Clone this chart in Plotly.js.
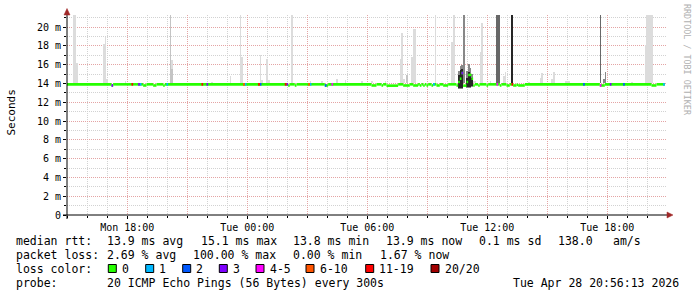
<!DOCTYPE html>
<html><head><meta charset="utf-8">
<script src="https://cdn.plot.ly/plotly-3.0.1.min.js"></script>
<style>html,body{margin:0;padding:0;background:#fff}#chart{width:697px;height:297px}</style>
</head><body><div id="chart"></div>
<script>
const M = '2026-04-27 ', T = '2026-04-28 ';

// median rtt (ms), step values at 5-minute sample times where the value changes
const medianTimes = [M+'15:00', M+'17:15', M+'17:20', M+'18:50', M+'19:00', M+'19:20', M+'19:30', M+'19:50', M+'19:55',
  T+'02:05', T+'02:10', T+'02:25', T+'02:30', T+'03:55', T+'04:05', T+'06:15', T+'06:30', T+'06:45', T+'06:50',
  T+'07:00', T+'07:35', T+'07:50', T+'08:10', T+'08:20', T+'08:35', T+'08:40', T+'08:45', T+'08:50', T+'08:55',
  T+'09:00', T+'09:05', T+'09:15', T+'09:20', T+'09:30', T+'09:40', T+'09:50', T+'10:05', T+'10:30', T+'10:35',
  T+'10:40', T+'10:45', T+'10:50', T+'11:00', T+'11:05', T+'11:15', T+'11:20', T+'11:25', T+'11:35', T+'11:40',
  T+'12:00', T+'12:05', T+'12:40', T+'12:45', T+'13:00', T+'13:10', T+'13:20', T+'13:30', T+'13:35', T+'13:55',
  T+'17:40', T+'17:55', T+'20:15', T+'20:30', T+'20:50'];
const medianVals = [13.9, 13.78, 13.9, 13.78, 13.9, 13.78, 13.9, 13.78, 13.9,
  13.78, 13.9, 13.78, 13.9, 13.78, 13.9, 13.78, 13.9, 13.78, 13.9,
  13.76, 13.9, 13.78, 13.9, 13.78, 13.9, 13.78, 13.9, 13.78, 13.9,
  13.78, 13.9, 13.78, 13.9, 13.78, 13.9, 13.78, 13.9, 13.78, 14.15,
  14.5, 15.1, 13.76, 14.15, 14.9, 14.5, 13.78, 13.9, 13.78, 13.9,
  13.78, 13.9, 13.78, 13.9, 13.78, 13.9, 13.78, 13.85, 13.78, 13.9,
  13.78, 13.9, 13.78, 13.9, 13.9];

// lost pings (of 20) at samples with loss
const lossTimes = [M+'17:15', M+'18:15', M+'18:35', M+'18:40', M+'20:00', M+'21:45', M+'22:00', M+'23:50', M+'23:55',
  T+'00:35', T+'00:40', T+'01:55', T+'02:00', T+'03:05', T+'03:10', T+'03:55', T+'04:15', T+'09:20', T+'10:45',
  T+'12:30', T+'13:15', T+'16:50', T+'17:40', T+'18:10', T+'18:50', T+'20:50'];
const lossCount = [3, 15, 3, 1, 1, 15, 3, 8, 1,
  15, 2, 15, 3, 8, 1, 2, 5, 1, 3,
  5, 15, 2, 5, 3, 2, 1];

// smoke (ping spread) bands: low / high rtt (ms) and density level 1 (sparse) .. 5 (dense)
const smokeTimes = [M+'15:20', M+'15:25', M+'15:30', M+'16:50', M+'16:55', M+'17:00', M+'17:55', M+'20:10', M+'20:15', M+'20:15',
  M+'22:15', M+'23:10', M+'23:40', M+'23:45', T+'00:40', T+'00:45', T+'01:00', T+'01:05', T+'02:15', T+'03:10',
  T+'03:45', T+'04:30', T+'04:55', T+'05:45', T+'06:15', T+'06:55', T+'07:40', T+'07:45', T+'07:50', T+'08:00',
  T+'08:15', T+'08:20', T+'08:25', T+'09:25', T+'10:15', T+'10:20',
  T+'10:35', T+'10:35', T+'10:40', T+'10:40', T+'10:45', T+'10:45', T+'10:50',
  T+'11:00', T+'11:00', T+'11:05', T+'11:05', T+'11:10', T+'11:10', T+'11:15', T+'11:15', T+'11:20', T+'11:25',
  T+'11:40', T+'11:45', T+'12:10', T+'12:30', T+'12:35', T+'12:50', T+'12:55', T+'13:15', T+'14:05', T+'14:40',
  T+'14:45', T+'15:15', T+'15:20', T+'15:55', T+'16:00', T+'16:05', T+'17:40', T+'17:50', T+'17:55', T+'19:15',
  T+'19:55', T+'20:00', T+'20:05', T+'20:10', T+'20:15'];
const smokeLo = [14.0, 14.0, 14.0, 14.0, 14.0, 14.0, 14.0, 14.0, 14.0, 14.0,
  14.0, 14.0, 14.0, 14.0, 14.0, 14.0, 14.0, 14.0, 14.0, 14.0,
  14.0, 14.0, 14.0, 14.0, 14.0, 14.0, 14.0, 14.0, 14.0, 14.0,
  14.0, 14.0, 14.0, 14.0, 14.0, 14.0,
  13.4, 13.5, 13.4, 13.5, 13.4, 13.5, 14.0,
  13.5, 13.6, 13.5, 13.6, 13.5, 13.6, 13.6, 13.7, 14.0, 14.0,
  14.0, 14.0, 14.0, 14.0, 14.0, 14.0, 14.0, 14.0, 14.0, 14.0,
  14.0, 14.0, 14.0, 14.0, 14.0, 14.0, 14.0, 14.0, 14.0, 14.0,
  14.0, 14.0, 14.0, 14.0, 14.0];
const smokeHi = [25, 25, 16.2, 18.2, 18.9, 14.5, 14.3, 25, 16.5, 15.5,
  14.2, 14.75, 25, 16.8, 17.05, 14.4, 16.6, 14.4, 25, 14.3,
  14.3, 14.5, 14.4, 14.3, 14.3, 14.3, 16.55, 19.4, 14.5, 14.9,
  16.8, 19.8, 19.8, 25, 18.4, 25,
  15.3, 14.9, 15.8, 15.4, 16.0, 15.5, 25,
  15.3, 14.6, 16.1, 15.2, 15.6, 15.0, 15.0, 14.6, 14.3, 14.3,
  17.3, 20.4, 14.3, 25, 25, 14.8, 15.2, 25, 14.2, 14.6,
  15.1, 14.5, 15.2, 14.3, 14.3, 14.3, 25, 14.5, 15.2, 14.2,
  18.1, 25, 25, 25, 25];
const smokeLevel = [1, 1, 1, 1, 1, 1, 1, 2, 1, 2,
  1, 1, 1, 1, 1, 1, 1, 1, 1, 1,
  1, 1, 1, 1, 1, 1, 1, 1, 1, 2,
  1, 1, 1, 1, 1, 1,
  3, 5, 3, 5, 3, 5, 3,
  3, 5, 3, 5, 3, 5, 3, 5, 1, 1,
  1, 1, 1, 4, 4, 1, 1, 5, 1, 1,
  1, 1, 1, 1, 1, 1, 4, 3, 3, 1,
  1, 1, 1, 1, 1];

// axis ticks
const xTickVals = [M+'15:00', M+'18:00', M+'21:00', T+'00:00', T+'03:00', T+'06:00', T+'09:00', T+'12:00', T+'15:00', T+'18:00'];
const xTickText = ['', 'Mon 18:00', '', 'Tue 00:00', '', 'Tue 06:00', '', 'Tue 12:00', '', 'Tue 18:00'];
const yTickVals = [0, 2, 4, 6, 8, 10, 12, 14, 16, 18, 20];
const yTickText = ['0', '2 m', '4 m', '6 m', '8 m', '10 m', '12 m', '14 m', '16 m', '18 m', '20 m'];

// loss colour legend
const lossUpper = [0, 1, 2, 3, 5, 10, 19, 20];
const lossLabels = ['0', '1', '2', '3', '4-5', '6-10', '11-19', '20/20'];
const lossColors = ['#26ff00', '#00b8ff', '#0059ff', '#7e00ff', '#ff00ff', '#ff5500', '#ff0000', '#a10000'];

// legend texts
const rttStats = ['median rtt:', '13.9 ms avg', '15.1 ms max', '13.8 ms min', '13.9 ms now', '0.1 ms sd', '138.0', 'am/s'];
const lossStats = ['packet loss:', '2.69 % avg', '100.00 % max', '0.00 % min', '1.67 % now'];
const probeRow = ['probe:', '20 ICMP Echo Pings (56 Bytes) every 300s', 'Tue Apr 28 20:56:13 2026'];

// ---------- drawing ----------
const toMs = s => { const [d, t] = s.split(' '); const [Y, Mo, D] = d.split('-').map(Number); const [h, mi] = t.split(':').map(Number); return Date.UTC(Y, Mo - 1, D, h, mi, 0); };
const STEP = 300000;
const PL = 67, PW = 600, PB = 215, PH = 200;
const px = x => (x - PL) / PW, py = y => (PB - y) / PH;
const FONT = 'DejaVu Sans Mono';
const LW = 2.6;

const mT = medianTimes.map(toMs);
function medianAt(t) { let v = medianVals[0]; for (let i = 0; i < mT.length; i++) if (mT[i] <= t) v = medianVals[i]; return v; }
function lossIdx(n) { for (let i = 0; i < lossUpper.length; i++) if (n <= lossUpper[i]) return i; return lossUpper.length - 1; }
const shade = {1: '#dcdcdc', 2: '#c4c4c4', 3: '#888888', 4: '#686868', 5: '#262626'};

const traces = [];
[1, 2, 3, 4, 5].forEach(lv => {
  const idx = smokeLevel.map((l, i) => l === lv ? i : -1).filter(i => i >= 0);
  if (!idx.length) return;
  traces.push({type: 'bar', x: idx.map(i => toMs(smokeTimes[i])), base: idx.map(i => smokeLo[i]),
    y: idx.map(i => smokeHi[i] - smokeLo[i]), width: STEP, marker: {color: shade[lv], line: {width: 0}},
    hoverinfo: 'skip', cliponaxis: true});
});
// median: horizontal pieces without vertical connectors
const gx = [], gy = [];
for (let i = 0; i < mT.length; i++) {
  const a = mT[i] - STEP / 2, b = (i + 1 < mT.length ? mT[i + 1] : mT[i] + STEP) - STEP / 2;
  gx.push(a, b, null); gy.push(medianVals[i], medianVals[i], null);
}
traces.push({type: 'scatter', mode: 'lines', x: gx, y: gy, line: {color: lossColors[0], width: LW}, hoverinfo: 'skip', connectgaps: false});
// loss colour pieces
const lT = lossTimes.map(toMs);
for (let c = 1; c < lossColors.length; c++) {
  const sx = [], sy = [];
  lT.forEach((t, i) => { if (lossIdx(lossCount[i]) === c) { const v = medianAt(t); sx.push(t - STEP / 2, t + STEP / 2, null); sy.push(v, v, null); } });
  if (sx.length) traces.push({type: 'scatter', mode: 'lines', x: sx, y: sy, line: {color: lossColors[c], width: LW}, hoverinfo: 'skip', connectgaps: false});
}

const hourly = []; for (let t = toMs(M + '15:00'); t <= toMs(T + '21:00'); t += 3600000) hourly.push(t);
const minorY = []; for (let v = 1; v <= 21; v += 2) minorY.push(v);
const x0 = toMs(M + '14:59') + 6000;

const ann = [];
const txt = (x, y, text, extra) => ann.push(Object.assign({xref: 'paper', yref: 'paper', x: px(x), y: py(y), xanchor: 'left', yanchor: 'middle',
  text: text, showarrow: false, font: {family: FONT, size: 11.5, color: '#000'}, borderpad: 0, borderwidth: 0}, extra || {}));
const r1x = [16, 107.3, 201, 293.3, 386, 479.3, 558.3, 613.3];
rttStats.forEach((s, i) => txt(r1x[i], 241, s));
const r2x = [16, 107.3, 193.3, 293.3, 380];
lossStats.forEach((s, i) => txt(r2x[i], 255.3, s));
txt(16, 269.3, 'loss color:');
const boxX = [108.3, 145.7, 182.7, 219.3, 256, 306, 365.7, 431];
const shapes = [];
lossLabels.forEach((s, i) => {
  txt(boxX[i] + 13.5, 269.3, s);
  shapes.push({type: 'rect', xref: 'paper', yref: 'paper', x0: px(boxX[i]), x1: px(boxX[i] + 8), y0: py(264.5), y1: py(272.5),
    fillcolor: lossColors[i], line: {color: '#000', width: 1}});
});
const r4x = [16, 107.3, 513.3];
probeRow.forEach((s, i) => txt(r4x[i], 283.3, s));
ann.push({xref: 'paper', yref: 'paper', x: px(10.5), y: py(113), text: 'Seconds', textangle: -90, showarrow: false,
  font: {family: FONT, size: 11, color: '#000'}, xanchor: 'center', yanchor: 'middle'});
ann.push({xref: 'paper', yref: 'paper', x: px(687), y: py(60), text: 'RRDTOOL / TOBI OETIKER', textangle: 90, showarrow: false,
  font: {family: FONT, size: 8.4, color: '#b0b0b0'}, xanchor: 'center', yanchor: 'middle'});

// axes with arrows
shapes.push({type: 'line', xref: 'paper', yref: 'paper', x0: px(63), x1: px(668), y0: 0, y1: 0, line: {color: '#000', width: 1}});
shapes.push({type: 'line', xref: 'paper', yref: 'paper', x0: 0, x1: 0, y0: py(219), y1: py(12), line: {color: '#000', width: 1}});
const P = (x, y) => px(x) + ',' + py(y);
shapes.push({type: 'path', xref: 'paper', yref: 'paper', path: 'M' + P(667, 212) + 'L' + P(673, 215) + 'L' + P(667, 218) + 'Z',
  fillcolor: '#a02828', line: {color: '#a02828', width: 0.5}});
shapes.push({type: 'path', xref: 'paper', yref: 'paper', path: 'M' + P(64, 15) + 'L' + P(67, 8.5) + 'L' + P(70, 15) + 'Z',
  fillcolor: '#a02828', line: {color: '#a02828', width: 0.5}});

const layout = {
  width: 697, height: 297, margin: {l: PL, r: 30, t: 15, b: 82}, paper_bgcolor: '#fff', plot_bgcolor: '#fff',
  showlegend: false, barmode: 'overlay', bargap: 0,
  xaxis: {type: 'date', range: [x0, x0 + 30 * 3600000], tickmode: 'array', tickvals: xTickVals.map(toMs), ticktext: xTickText,
    showgrid: true, gridcolor: '#e4a4a4', griddash: '1px,1px', gridwidth: 1, zeroline: false, showline: false,
    ticks: 'outside', ticklen: 3, tickcolor: '#000', tickfont: {family: FONT, size: 10, color: '#000'},
    minor: {tickmode: 'array', tickvals: hourly, showgrid: true, gridcolor: '#d2d2d2', griddash: '1px,1px', gridwidth: 1,
      ticks: 'outside', ticklen: 2, tickcolor: '#000'}, fixedrange: true},
  yaxis: {range: [0, PH / 9.4], tickmode: 'array', tickvals: yTickVals, ticktext: yTickText,
    showgrid: true, gridcolor: '#e4a4a4', griddash: '1px,1px', gridwidth: 1, zeroline: false, showline: false,
    ticks: 'outside', ticklen: 3, tickcolor: '#000', tickfont: {family: FONT, size: 10, color: '#000'},
    minor: {tickmode: 'array', tickvals: minorY, showgrid: true, gridcolor: '#d2d2d2', griddash: '1px,1px', gridwidth: 1,
      ticks: 'outside', ticklen: 2, tickcolor: '#000'}, fixedrange: true},
  shapes: shapes, annotations: ann
};
Plotly.newPlot('chart', traces, layout, {staticPlot: true, displayModeBar: false});
</script></body></html>
